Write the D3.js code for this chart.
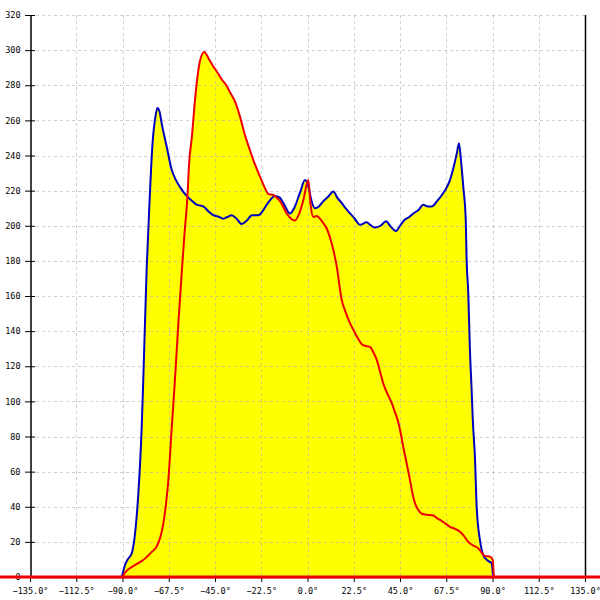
<!DOCTYPE html>
<html><head><meta charset="utf-8">
<script src="https://cdn.jsdelivr.net/npm/d3@7"></script>
<style>body{margin:0;background:#fff}svg{display:block}</style>
</head><body>
<svg id="c" width="600" height="600"></svg>
<script>
const xTicks = [-135, -112.5, -90, -67.5, -45, -22.5, 0, 22.5, 45, 67.5, 90, 112.5, 135];
const yTicks = [0, 20, 40, 60, 80, 100, 120, 140, 160, 180, 200, 220, 240, 260, 280, 300, 320];

const blueAngles = [-90.3,-88.8,-87.5,-85.5,-83.4,-81.9,-80.7,-79.9,-78.2,-76.6,-75.5,-74,-73,-72,-70.9,-68.5,-66.1,-64,-62,-58.8,-56,-53.9,-50.7,-48,-45.8,-43,-41,-39,-36.9,-34.5,-32,-29.5,-27,-24,-22,-19.8,-15.8,-13.5,-11.8,-8.5,-6.5,-3.6,-1.2,0.5,2,3.6,5.5,7.7,10,12.6,14.5,16.6,18.5,20.7,23,25.5,28.8,30.5,32.8,35.5,38.2,40.5,43,45,47.4,49.5,51.5,54,56.3,58.5,60.4,63,66,67.8,69.3,71,72.6,73.7,74.6,75.8,77,77.4,78.2,79,79.9,80.4,81.5,82.3,83.9,85.5,87.5,89.6,90.3];
const blueValues = [0,6.8,10,13.5,30.6,55,84,112,177,220,245,262,267,265,258,245,232,226,222,217,214,212,211,208,206,205,204,205,206,204,201,203,206,206,208,212,217,216,213,207,210,219,226,222,214,210,211,214,216.5,219.5,216,213,210,207,204,200.5,202,200.5,199,200,202.5,199.5,197,200,203.5,205,207,209,212,211,211,214,218.5,222,226,233,241,247,238,222,203,181,162,130,105,90,67,40,21,12.5,9.5,7.8,0];

const redAngles = [-180,-135,-90,-89.6,-88,-86.4,-83,-79.9,-76,-73.4,-71.5,-70.1,-68.8,-67.7,-66.1,-64.5,-62.8,-61.2,-59.8,-58.5,-57.5,-56.3,-54.7,-53.5,-52.3,-50.2,-48,-46,-44.2,-41.5,-39.5,-37.7,-35,-32.8,-30.5,-28,-26.4,-23.1,-20.5,-19,-16.5,-15,-13.4,-10.1,-8,-6.1,-4,-2,0.4,1.5,2.8,4.5,6.1,8,9.3,11,12.6,14.2,16.6,18.5,20.5,22.3,24.5,26.4,28.5,30.4,32,33.7,35.5,36.9,39,41,42.5,44.2,45.5,46.6,47.9,49.9,51,52.3,54,55.6,58,61.2,63,64.5,67,69.3,72,74.2,76,78.2,80.5,83.1,85,86.3,88.8,90.1,90.8,135,180];
const redValues = [0,0,0,1,3.5,5,7.5,9.7,14,17.3,23,30.6,42,55,84,112,145,173,196,215,237,250,272,285,294,299,295,291,288,283,280,276,270,262,252,243,237.5,228,221,218,217.5,216,214,207,204,203,207,214.7,226,212,205,205.5,204,201,198.6,193,186,177,158,151,145,140.7,136,132.5,131.5,131,128,123.6,116,110,104,99,94,88,81,74,66.6,55,48,42,38,36,35.5,35,33.5,32.5,30.5,28.6,27.3,25.8,23.5,20,18,16.3,13.5,12,11.6,9.7,0,0,0];

const blue = blueAngles.map((a,i)=>({a, v: blueValues[i]}));
const red = redAngles.map((a,i)=>({a, v: redValues[i]}));

const svg = d3.select('#c');
const x = d3.scaleLinear().domain([-135,135]).range([30,585]);
const y = d3.scaleLinear().domain([0,320]).range([577,15]);

const area = d3.area().x(d=>x(d.a)).y0(y(0)).y1(d=>y(d.v)).curve(d3.curveMonotoneX);
const line = d3.line().x(d=>x(d.a)).y(d=>y(d.v)).curve(d3.curveMonotoneX);

svg.append('path').datum(blue).attr('d', area).attr('fill', '#ffff00');
svg.append('path').datum(red.filter(d=>d.a>=-90.5 && d.a<=91)).attr('d', area).attr('fill', '#ffff00');

// grid
const g = svg.append('g').attr('stroke', '#b0b0b0').attr('stroke-opacity', 0.6).attr('stroke-dasharray', '3,3').attr('stroke-width', 1);
yTicks.filter(t=>t>0).forEach(t=>{
  g.append('line').attr('x1', x(-135)).attr('x2', x(135)).attr('y1', Math.round(y(t))+0.5).attr('y2', Math.round(y(t))+0.5);
});
xTicks.filter(t=>t>-135 && t<135).forEach(t=>{
  g.append('line').attr('x1', Math.round(x(t))+0.5).attr('x2', Math.round(x(t))+0.5).attr('y1', y(320)).attr('y2', y(0));
});

// axes
const yAxis = d3.axisLeft(y).tickValues(yTicks).tickSizeInner(5).tickSizeOuter(0).tickPadding(5).tickFormat(d3.format('d'));
const gy = svg.append('g').attr('transform', 'translate(30.5,0)').call(yAxis);
gy.selectAll('line').attr('transform','translate(-0.5,0)').attr('x2', 5).attr('x1', -5).attr('stroke', '#000');
const xAxis = d3.axisBottom(x).tickValues(xTicks).tickSizeInner(5).tickSizeOuter(0).tickPadding(6).tickFormat(d=>d3.format('.1f')(d)+'°');
const gx = svg.append('g').attr('transform', 'translate(0,577)').call(xAxis);
[gy, gx].forEach(ga=>{
  ga.select('.domain').attr('stroke', '#000').attr('stroke-width', 1.5);
  ga.selectAll('text').attr('font-family', 'DejaVu Sans Mono, monospace').attr('font-size', 8.5).attr('fill', '#000');
});
svg.append('line').attr('x1', 585.5).attr('x2', 585.5).attr('y1', y(320)).attr('y2', y(0)).attr('stroke', '#000').attr('stroke-width', 1.5);

svg.append('path').datum(blue).attr('d', line).attr('fill', 'none').attr('stroke', '#0000c0').attr('stroke-width', 2);
svg.append('path').datum(red).attr('d', line).attr('fill', 'none').attr('stroke', '#ee0000').attr('stroke-width', 2);
svg.append('path').datum(red.filter(d=>d.v===0)).attr('d', d3.line().x(d=>x(d.a)).y(y(0))).attr('stroke', '#ee0000').attr('stroke-width', 3);
</script>
</body></html>
